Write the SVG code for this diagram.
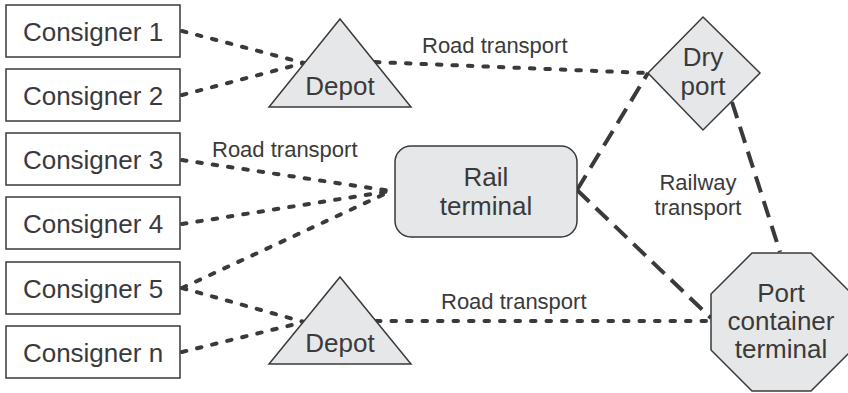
<svg xmlns="http://www.w3.org/2000/svg" width="848" height="393" viewBox="0 0 848 393">
<style>
.box{fill:#ffffff;stroke:#3a3a3a;stroke-width:1.5}
.shape{fill:#e6e7e8;stroke:#3a3a3a;stroke-width:1.5}
.t{font-family:"Liberation Sans",Arial,sans-serif;font-size:26px;fill:#3a3a3a;text-anchor:middle}
.lbl{font-family:"Liberation Sans",Arial,sans-serif;font-size:22px;fill:#3a3a3a}
.road{fill:none;stroke:#3a3a3a;stroke-width:4;stroke-linecap:round;stroke-dasharray:4.5 11}
.rail{fill:none;stroke:#3a3a3a;stroke-width:4;stroke-dasharray:17 9}
</style>
<rect width="848" height="393" fill="#ffffff"/>
<g id="connectors">
<line class="road" x1="182" y1="31" x2="304" y2="63"/>
<line class="road" x1="182" y1="95" x2="304" y2="63"/>
<line class="road" x1="375" y1="62" x2="646" y2="73"/>
<line class="road" x1="182" y1="160" x2="391" y2="191"/>
<line class="road" x1="182" y1="224" x2="391" y2="191"/>
<line class="road" x1="182" y1="288" x2="391" y2="191"/>
<line class="road" x1="182" y1="288" x2="304" y2="322"/>
<line class="road" x1="182" y1="352" x2="304" y2="322"/>
<line class="road" x1="376" y1="321" x2="710" y2="321"/>
<line class="rail" x1="577" y1="190" x2="648" y2="73"/>
<line class="rail" x1="577" y1="190" x2="711" y2="318"/>
<line class="rail" x1="732" y1="102" x2="780" y2="252"/>
<text class="lbl" x="422" y="53">Road transport</text>
<text class="lbl" x="212" y="157">Road transport</text>
<text class="lbl" x="441" y="309">Road transport</text>
<text class="lbl" x="698" y="190" text-anchor="middle">Railway</text>
<text class="lbl" x="698" y="215" text-anchor="middle">transport</text>
</g>
<g id="consigner1"><rect class="box" x="6" y="5" width="174" height="52"/><text class="t" x="93" y="41">Consigner 1</text></g>
<g id="consigner2"><rect class="box" x="6" y="69" width="174" height="52"/><text class="t" x="93" y="105">Consigner 2</text></g>
<g id="consigner3"><rect class="box" x="6" y="133" width="174" height="52"/><text class="t" x="93" y="169">Consigner 3</text></g>
<g id="consigner4"><rect class="box" x="6" y="197" width="174" height="52"/><text class="t" x="93" y="233">Consigner 4</text></g>
<g id="consigner5"><rect class="box" x="6" y="262" width="174" height="52"/><text class="t" x="93" y="298">Consigner 5</text></g>
<g id="consignern"><rect class="box" x="6" y="326" width="174" height="52"/><text class="t" x="93" y="362">Consigner n</text></g>
<g id="depot1"><polygon class="shape" points="340,19 411,107 269,107"/><text class="t" x="340" y="95">Depot</text></g>
<g id="depot2"><polygon class="shape" points="340,277 411,364 269,364"/><text class="t" x="340" y="352">Depot</text></g>
<g id="dryport"><polygon class="shape" points="703,17 760,73 703,130 648,73"/><text class="t" x="703" y="66">Dry</text><text class="t" x="703" y="95">port</text></g>
<g id="railterminal"><rect class="shape" x="395" y="146" width="182" height="91" rx="16" ry="16"/><text class="t" x="486" y="186">Rail</text><text class="t" x="486" y="215">terminal</text></g>
<g id="portterminal"><polygon class="shape" points="752,253 811,253 852,294 852,350 811,391 752,391 711,350 711,294"/><text class="t" x="781" y="302">Port</text><text class="t" x="781" y="330">container</text><text class="t" x="781" y="358">terminal</text></g>
</svg>
